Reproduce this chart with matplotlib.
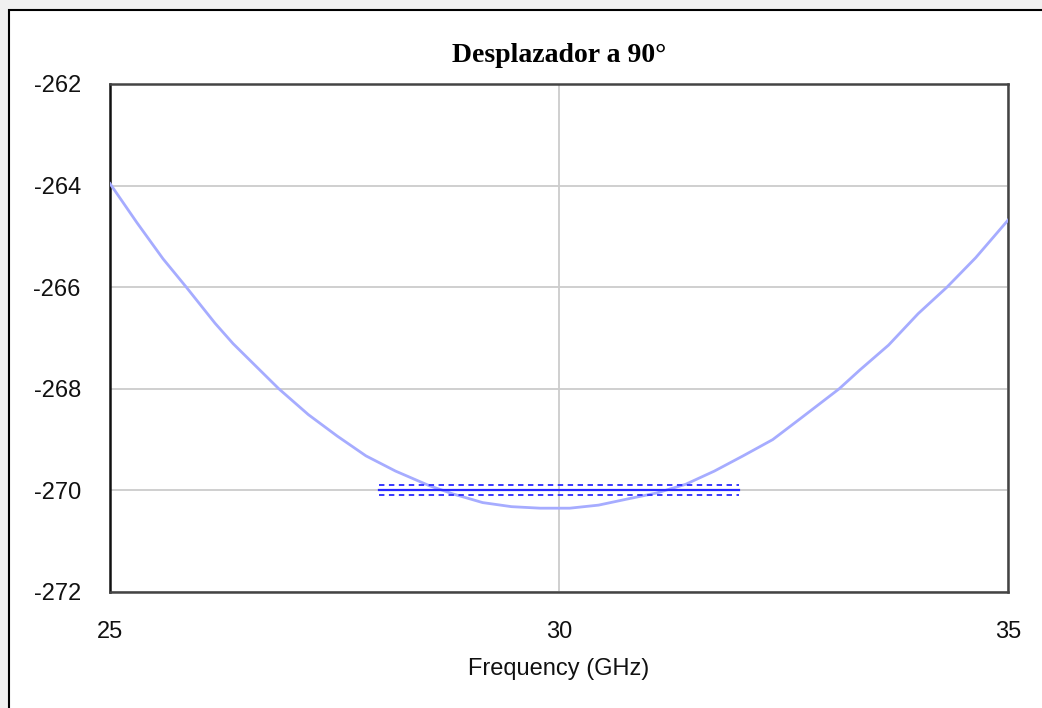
import numpy as np
import matplotlib
matplotlib.use("Agg")
import matplotlib.pyplot as plt
from matplotlib.patches import Rectangle

plt.rcParams['axes.unicode_minus'] = False
plt.rcParams['font.family'] = ['Liberation Sans', 'DejaVu Sans']

# curve (GHz, value)
freq = [25.00, 25.30, 25.59, 25.85, 26.17, 26.37, 26.88, 27.21, 27.53, 27.85,
        28.18, 28.56, 28.82, 29.15, 29.47, 29.79, 30.12, 30.44, 30.76, 31.09,
        31.41, 31.73, 32.05, 32.38, 32.70, 33.12, 33.35, 33.67, 34.00, 34.32,
        34.64, 34.83, 35.00]
phase = [-263.96, -264.73, -265.44, -266.00, -266.71, -267.11, -268.00,
         -268.51, -268.93, -269.32, -269.62, -269.91, -270.07, -270.24,
         -270.32, -270.35, -270.35, -270.29, -270.17, -270.05, -269.88,
         -269.62, -269.32, -269.00, -268.57, -268.00, -267.63, -267.14,
         -266.52, -266.00, -265.42, -265.03, -264.68]

# goal line and its tolerance band
goal_x = [28, 32]
goal_y = -270
goal_tol = 0.1

x_ticks = [25, 30, 35]
y_ticks = [-262, -264, -266, -268, -270, -272]

fig = plt.figure(figsize=(10.42, 7.08), dpi=100)
fig.patch.set_facecolor('#f0f0f0')

# window frame (behind the axes)
fig.patches.append(Rectangle((9 / 1042, -0.1), 1.2, (698 / 708) + 0.1,
                             transform=fig.transFigure, facecolor='white',
                             edgecolor='black', linewidth=1.5, zorder=-5))

ax = fig.add_axes([110 / 1042, 116 / 708, 898 / 1042, 508 / 708])
ax.set_facecolor('white')

ax.plot(freq, phase, color='#a6acff', linewidth=2.0, zorder=3)
ax.plot(goal_x, [goal_y, goal_y], color='#2a2aff', linewidth=1.6, zorder=4)
ax.plot(goal_x, [goal_y + goal_tol] * 2, color='#2a2aff', linewidth=1.3,
        linestyle=(0, (3, 2.5)), zorder=4)
ax.plot(goal_x, [goal_y - goal_tol] * 2, color='#2a2aff', linewidth=1.3,
        linestyle=(0, (3, 2.5)), zorder=4)

ax.set_xlim(25, 35)
ax.set_ylim(-272, -262)
ax.set_xticks(x_ticks)
ax.set_yticks(y_ticks)
ax.set_xticklabels([str(t) for t in x_ticks])
ax.set_yticklabels([str(t) for t in y_ticks])
ax.tick_params(axis='both', length=0, labelsize=17, colors='#111111')
ax.tick_params(axis='y', pad=21)
ax.tick_params(axis='x', pad=21)

ax.grid(True, color='#cccccc', linewidth=1.3)
ax.set_axisbelow(True)
for s in ax.spines.values():
    s.set_color('#444444')
    s.set_linewidth(1.8)
ax.spines['left'].set_color('#111111')

ax.set_xlabel('Frequency (GHz)', fontsize=17, labelpad=11, color='#111111')
ax.set_title('Desplazador a 90°', fontsize=20, fontweight='bold',
             family=['Liberation Serif', 'DejaVu Serif'], pad=16)

fig.savefig('out.png', dpi=100, facecolor=fig.get_facecolor())
